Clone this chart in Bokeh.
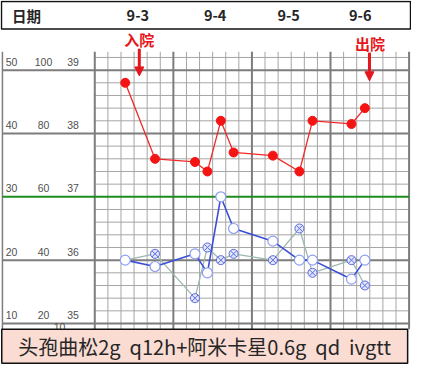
import numpy as np
from bokeh.plotting import figure
from bokeh.models import Range1d, Arrow, NormalHead
from bokeh.core.properties import value
from bokeh.embed import file_html
from bokeh.resources import INLINE

# ---------------- data ----------------
dates = ["9-3", "9-4", "9-5", "9-6"]
hours = [9.3, 18.4, 30.6, 34.4, 38.5, 42.4, 54.4, 62.5, 66.5, 78.4, 82.5]   # hours since 9-3 00:00
temperature = [38.8, 37.6, 37.55, 37.4, 38.2, 37.7, 37.65, 37.4, 38.2, 38.15, 38.4]
resp_a = [20, 19, 21, 18, 30, 25, 23, 20, 20, 17, 20]
resp_b = [20, 21, 14, 22, 20, 21, 20, 25, 18, 20, 16]
scale_temp = [39, 38, 37, 36, 35]
scale_pulse = [100, 80, 60, 40, 20]
scale_resp = [50, 40, 30, 20, 10]
admit_hour, discharge_hour = 13.6, 83.9
drug_text = "头孢曲松2g\u00a0\u00a0q12h+阿米卡星0.6g\u00a0\u00a0qd\u00a0\u00a0ivgtt"

# ---------------- layout helpers (reference pixel -> data) ----------------
W, H = 411, 365
RX0, RX1, RY0 = 2.0, 427.0, 0.0
S = W / (RX1 - RX0)
PXH = (424.5 - 99.5) / 96.0          # px per hour
PXC = 65.5                          # px per degree


def hx(rx):
    return (rx - 99.5) / PXH


def ty(ry):
    return 39 - (ry - 72) / PXC


p = figure(width=W, height=H, output_backend="svg", toolbar_location=None,
           x_range=Range1d(hx(RX0), hx(RX1)),
           y_range=Range1d(ty(RY0 + H / S), ty(RY0)),
           x_axis_type=None, y_axis_type=None, min_border=0,
           outline_line_color=None, background_fill_color="white")
p.extra_y_ranges = {"resp": Range1d(10 * ty(RY0 + H / S) - 340, 10 * ty(RY0) - 340)}

# ---------------- grid ----------------
gtop, gbot = ty(53), ty(340)
vh = np.arange(0, 97, 4)
minor_v = [h for h in vh if h % 24 != 0]
major_v = [h for h in vh if h % 24 == 0]
p.segment(x0=minor_v, x1=minor_v, y0=gtop, y1=gbot, line_color="#a6a6a6", line_width=1)
temps = np.round(np.arange(35, 39.21, 0.2), 2)
minor_h = [t for t in temps if abs(t - round(t)) > 1e-6]
p.segment(x0=hx(99.5), x1=hx(424.5), y0=minor_h, y1=minor_h, line_color="#a6a6a6", line_width=1)
p.segment(x0=major_v, x1=major_v, y0=gtop, y1=gbot, line_color="#7d7d7d", line_width=2)
major_h = [t for t in scale_temp if t != 37]
p.segment(x0=hx(4), x1=hx(424.5), y0=major_h, y1=major_h, line_color="#7d7d7d", line_width=2)
p.segment(x0=[hx(4)], x1=[hx(4)], y0=[gtop], y1=[gbot], line_color="#7d7d7d", line_width=1.5)
p.segment(x0=[hx(4)], x1=[hx(424.5)], y0=[37], y1=[37], line_color="#1e8c1e", line_width=2)

# ---------------- left scale labels ----------------
lab_off = 8.7 / PXC
lab_font = dict(text_font=value("Liberation Sans"), text_font_size="10.5px",
                text_color="#505050", text_align="center", text_baseline="middle")
ly = [t + lab_off for t in scale_temp]
p.text(x=[hx(13.5)] * 5, y=ly, text=[str(v) for v in scale_resp], **lab_font)
p.text(x=[hx(46.5)] * 5, y=ly, text=[str(v) for v in scale_pulse], **lab_font)
p.text(x=[hx(77)] * 5, y=ly, text=[str(v) for v in scale_temp], **lab_font)
p.text(x=[hx(63)], y=[ty(338)], text=["10"], **lab_font)

# ---------------- series ----------------
p.line(hours, resp_b, y_range_name="resp", line_color="#9db8b0", line_width=1.3)
p.scatter(hours[1:], resp_b[1:], y_range_name="resp", marker="circle_x", size=9,
          line_color="#5b6be0", fill_color="#e2e6fb", line_width=1)
p.line(hours, resp_a, y_range_name="resp", line_color="#3b4fd6", line_width=1.6)
p.scatter(hours, resp_a, y_range_name="resp", marker="circle", size=10,
          line_color="#8c9ff0", fill_color="white", line_width=1.2)
p.line(hours, temperature, line_color="#f02a2a", line_width=1.3)
p.scatter(hours, temperature, marker="circle", size=9, line_color="#f51414",
          fill_color="#f51414")

# ---------------- admission / discharge arrows ----------------
red = "#e5161c"
for h, rtop, rtip in [(admit_hour, 50, 78), (discharge_hour, 54, 83)]:
    p.add_layout(Arrow(end=NormalHead(size=9, fill_color=red, line_color=red),
                       x_start=h, y_start=ty(rtop), x_end=h, y_end=ty(rtip),
                       line_color=red, line_width=3))
p.text(x=[admit_hour, discharge_hour + 0.2], y=[ty(40), ty(44)], text=["入院", "出院"],
       text_font=value("Noto Sans CJK SC"), text_font_style="bold",
       text_font_size="15px", text_color=red, text_align="center", text_baseline="middle")

# ---------------- header ----------------
p.quad(left=[hx(3)], right=[hx(426)], top=[ty(1)], bottom=[ty(29.5)],
       fill_color="white", line_color="#111111", line_width=1.5)
head_font = dict(text_font=value("Noto Sans CJK SC"), text_font_style="bold",
                 text_font_size="14.5px", text_color="#262626", text_baseline="middle")
p.text(x=[hx(14)], y=[ty(15.5)], text=["日期"], text_align="left", **head_font)
head_px = [144, 224, 300, 374]
p.text(x=[hx(v) for v in head_px], y=[ty(15.5)] * 4, text=dates, text_align="center", **head_font)

# ---------------- drug box ----------------
p.quad(left=[hx(3.3)], right=[hx(423)], top=[ty(340)], bottom=[ty(375)],
       fill_color="#fadcd3", line_color="#111111", line_width=1.5)
p.text(x=[hx(213)], y=[ty(358)], text=[drug_text], text_font=value("Noto Sans CJK SC"),
       text_font_size="20px", text_color="#262626", text_align="center", text_baseline="middle")

open("out.html", "w").write(file_html(p, INLINE))
